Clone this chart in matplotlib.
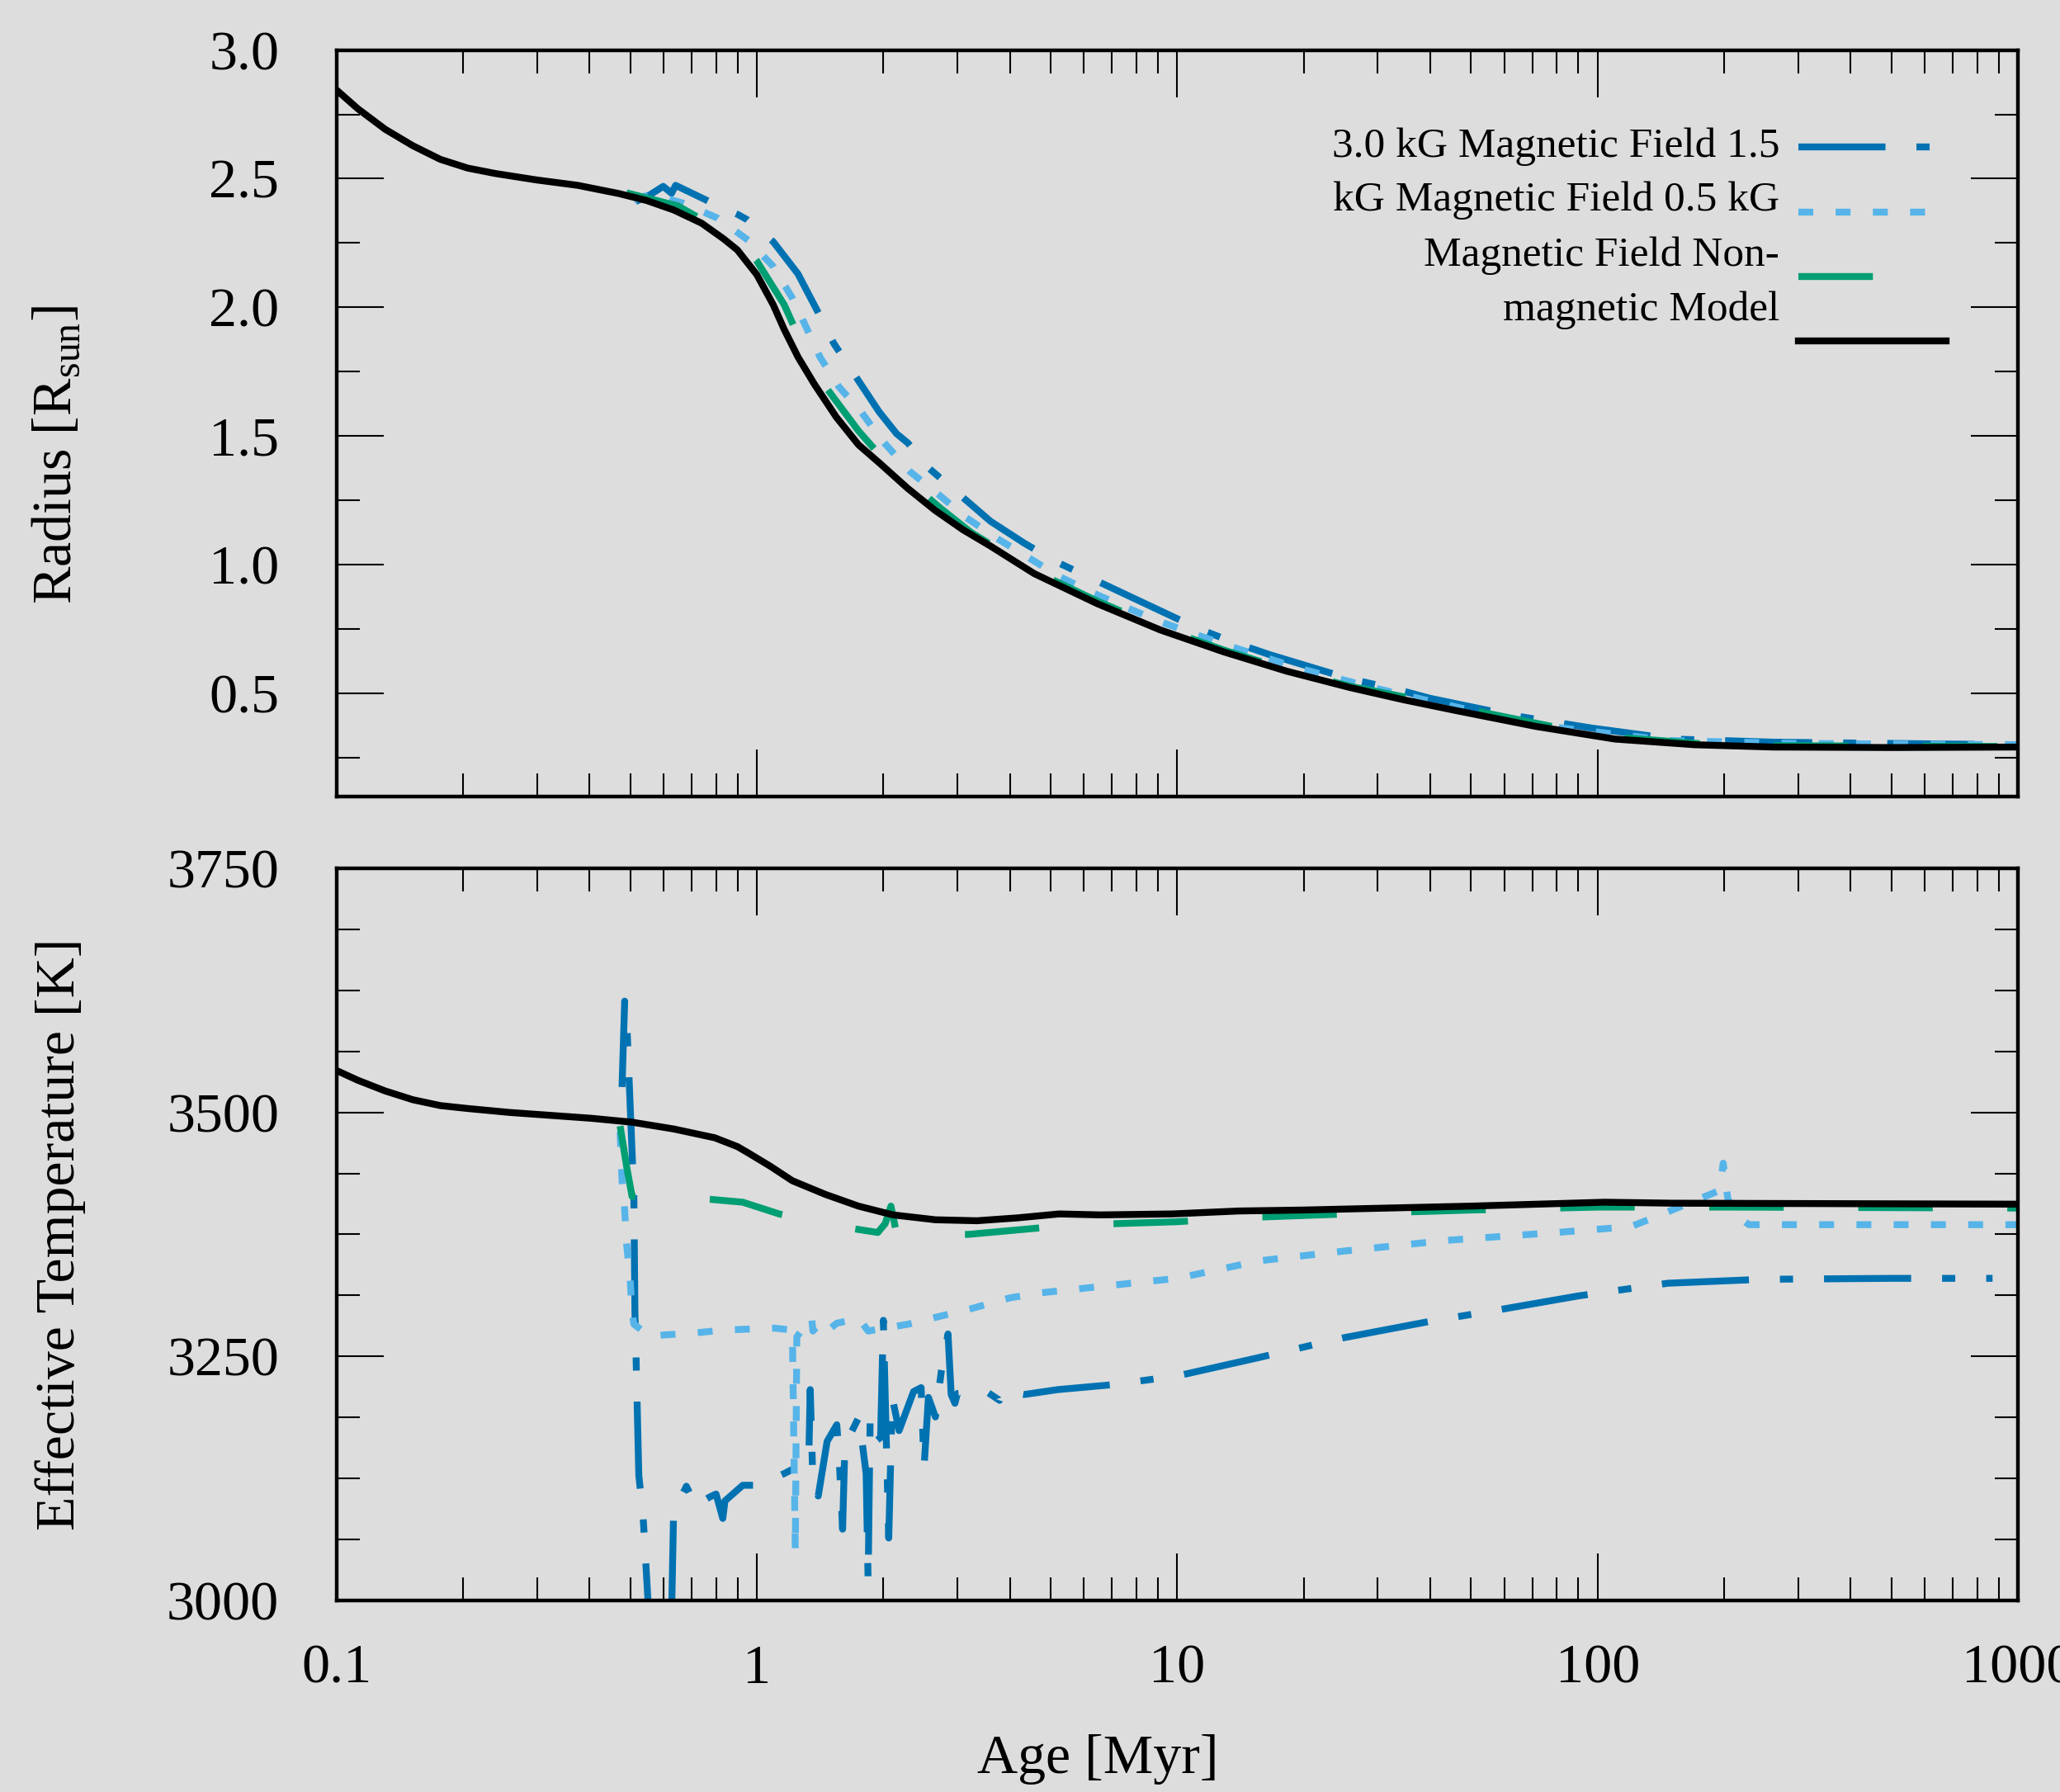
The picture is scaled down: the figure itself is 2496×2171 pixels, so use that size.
import numpy as np
import matplotlib
matplotlib.use("Agg")
import matplotlib.pyplot as plt
from matplotlib.ticker import LogLocator, MultipleLocator, NullFormatter

# =====================================================
# DATA (age in Myr)
# =====================================================
# --- radius panel [R_sun] ---
age_r_30 = [0.515, 0.558, 0.599, 0.627, 0.641, 0.773, 0.903, 0.95, 1.094, 1.253, 1.413, 1.524,
            1.954, 2.15, 2.29, 2.54, 3.6, 4.34, 5.2, 11.2, 13.6, 16.6, 26, 33, 39.8, 62.7, 96.6,
            152, 261, 500, 1000]
rad_30 = [2.411, 2.438, 2.470, 2.443, 2.474, 2.41, 2.36, 2.34, 2.255, 2.13, 1.967, 1.860,
          1.594, 1.509, 1.472, 1.381, 1.168, 1.082, 1.008, 0.752, 0.698, 0.650, 0.554, 0.517,
          0.481, 0.414, 0.365, 0.322, 0.31, 0.305, 0.30]

age_r_15 = [0.51, 0.56, 0.67, 0.808, 0.955, 1.094, 1.215, 1.30, 1.413, 1.57, 1.77, 2.0, 2.32,
            2.70, 3.14, 3.71, 4.41, 5.24, 6.3, 7.6, 9.12, 11.0, 13.4, 19.5, 29.2, 37.3, 71, 150,
            300, 1000]
rad_15 = [2.417, 2.44, 2.404, 2.346, 2.26, 2.159, 2.036, 1.935, 1.807, 1.69, 1.594, 1.477,
          1.36, 1.274, 1.184, 1.104, 1.029, 0.954, 0.89, 0.832, 0.778, 0.730, 0.682, 0.597,
          0.522, 0.481, 0.377, 0.316, 0.305, 0.30]

age_r_05 = [0.49, 0.649, 0.8, 0.927, 1.0, 1.162, 1.371, 1.745, 2.02, 2.75, 3.234, 4.57, 6.46,
            9.12, 12.9, 18.2, 25.8, 50, 100, 200, 1000]
rad_05 = [2.445, 2.394, 2.31, 2.244, 2.18, 2.01, 1.749, 1.52, 1.402, 1.216, 1.125, 0.975,
          0.858, 0.755, 0.668, 0.592, 0.527, 0.435, 0.335, 0.297, 0.293]

age_r_nm = [0.1, 0.1124, 0.1306, 0.152, 0.1767, 0.2053, 0.2389, 0.2992, 0.375, 0.470, 0.547,
            0.635, 0.739, 0.834, 0.899, 1.0, 1.094, 1.162, 1.253, 1.371, 1.546, 1.745, 1.967,
            2.287, 2.659, 3.09, 3.597, 4.57, 6.46, 9.12, 12.9, 18.2, 25.8, 34.5, 46.3, 71.4,
            110, 170, 261, 500, 1000]
rad_nm = [2.845, 2.772, 2.692, 2.628, 2.575, 2.541, 2.520, 2.495, 2.474, 2.442, 2.415, 2.378,
          2.327, 2.266, 2.223, 2.127, 2.010, 1.914, 1.807, 1.701, 1.573, 1.466, 1.392, 1.296,
          1.210, 1.136, 1.072, 0.965, 0.848, 0.746, 0.661, 0.586, 0.522, 0.475, 0.432, 0.371,
          0.322, 0.300, 0.291, 0.289, 0.291]

# --- effective temperature panel [K] ---
age_t_30 = [0.478, 0.485, 0.49, 0.495, 0.505, 0.51, 0.513, 0.516, 0.524, 0.536, 0.551, 0.57,
            0.60, 0.62, 0.628, 0.634, 0.68, 0.72, 0.746, 0.773, 0.80, 0.83, 0.84, 0.926, 1.01,
            1.162, 1.29, 1.33, 1.34, 1.36, 1.40, 1.47, 1.55, 1.57, 1.6, 1.62, 1.75, 1.82, 1.84,
            1.86, 1.88, 1.97, 2.0, 2.03, 2.06, 2.10, 2.18, 2.36, 2.46, 2.5, 2.56, 2.66, 2.75,
            2.85, 2.90, 2.96, 3.0, 3.49, 3.78, 3.85, 4.33, 5.2, 7, 10, 15.7, 24.8, 40, 58.6,
            90, 147, 246, 500, 870]
teff_30 = [3526, 3614, 3600, 3551, 3460, 3414, 3296, 3253, 3128, 3089, 3000, 2880,
           2850, 2900, 3000, 3090, 3117, 3095, 3102, 3106, 3109, 3084, 3102, 3118, 3118,
           3130, 3140, 3149, 3216, 3120, 3107, 3163, 3180, 3146, 3073, 3159, 3188, 3130, 3020,
           3183, 3160, 3167, 3287, 3174, 3064, 3208, 3174, 3214, 3218, 3137, 3208, 3188, 3236,
           3273, 3211, 3202, 3212, 3215, 3205, 3215, 3211, 3216, 3221, 3230, 3249, 3269, 3286,
           3298, 3312, 3325, 3329, 3330, 3330]

age_t_15 = [0.473, 0.478, 0.485, 0.49, 0.50, 0.505, 0.51, 0.555, 0.71, 0.833, 1.1, 1.215, 1.235,
            1.245, 1.29, 1.35, 1.36, 1.43, 1.5, 1.55, 1.75, 1.84, 2.29, 2.66, 3.24, 4.0, 4.7,
            10, 15.7, 25, 44, 80, 120, 143, 195, 199, 204, 212, 229, 500, 1000]
teff_15 = [3480, 3430, 3400, 3366, 3327, 3296, 3283, 3271, 3274, 3277, 3279, 3277, 3050,
           3270, 3279, 3290, 3276, 3287, 3279, 3284, 3289, 3276, 3283, 3290, 3299, 3310, 3315,
           3330, 3348, 3358, 3369, 3377, 3383, 3396, 3420, 3448, 3412, 3396, 3385, 3385, 3385]

age_t_05 = [0.473, 0.49, 0.505, 0.773, 0.926, 1.13, 1.4, 1.69, 1.94, 2.02, 2.085, 2.15, 3.18,
            4.8, 5.5, 7.1, 10, 14, 29.5, 50, 100, 200, 1000]
teff_05 = [3486, 3445, 3414, 3411, 3408, 3396, 3388, 3381, 3377, 3386, 3404, 3376, 3375,
           3382, 3385, 3386, 3388, 3392, 3397, 3400, 3403, 3403, 3402]

age_t_nm = [0.1, 0.1124, 0.1306, 0.152, 0.1767, 0.2053, 0.2577, 0.3224, 0.4034, 0.5047, 0.635,
            0.7945, 0.899, 0.95, 1.0755, 1.215, 1.456, 1.745, 2.11, 2.66, 3.34, 4.18, 5.24,
            6.57, 9.73, 14, 20, 50, 104, 150, 1000]
teff_nm = [3543, 3533, 3522, 3513, 3507, 3504, 3500, 3497, 3494, 3490, 3483, 3474, 3465,
           3459, 3445, 3430, 3416, 3404, 3395, 3390, 3389, 3392, 3396, 3395, 3396, 3399, 3400,
           3404, 3408, 3407, 3406]

LEGEND_TEXT = ["3.0 kG Magnetic Field 1.5", "kG Magnetic Field 0.5 kG",
               "Magnetic Field Non-", "magnetic Model"]

XTICKS = [0.1, 1, 10, 100, 1000]
XTICK_LABELS = ["0.1", "1", "10", "100", "1000"]
R_TICKS = [0.5, 1.0, 1.5, 2.0, 2.5, 3.0]
T_TICKS = [3000, 3250, 3500, 3750]

# =====================================================
# STYLE
# =====================================================
BG = "#dddddd"
plt.rcParams["font.family"] = ["Liberation Serif", "DejaVu Serif"]
plt.rcParams["mathtext.fontset"] = "custom"
plt.rcParams["mathtext.rm"] = "Liberation Serif"
plt.rcParams["lines.scale_dashes"] = False

LW = 6
styles = [
    dict(color="#0072B2", lw=LW, dashes=(76, 27, 11.5, 27)),   # 3.0 kG
    dict(color="#56B4E9", lw=LW, dashes=(13, 19.5)),           # 1.5 kG
    dict(color="#009E73", lw=LW, dashes=(65, 65)),             # 0.5 kG
    dict(color="black", lw=LW, ls="-"),                        # non-magnetic
]

fig = plt.figure(figsize=(24.96, 21.71), dpi=100, facecolor=BG)
ax1 = fig.add_axes([0.1633, 0.5557, 0.8163, 0.4164], facecolor=BG)
ax2 = fig.add_axes([0.1633, 0.1069, 0.8163, 0.4085], facecolor=BG)

radius = [(age_r_30, rad_30), (age_r_15, rad_15), (age_r_05, rad_05), (age_r_nm, rad_nm)]
teff = [(age_t_30, teff_30), (age_t_15, teff_15), (age_t_05, teff_05), (age_t_nm, teff_nm)]

for (a, r), st in zip(radius, styles):
    ax1.plot(a, r, **st)
for (a, t), st in zip(teff, styles):
    ax2.plot(a, t, **st)

for ax in (ax1, ax2):
    ax.set_xscale("log")
    ax.set_xlim(0.1, 1000)
    ax.xaxis.set_major_locator(LogLocator(base=10, numticks=10))
    ax.xaxis.set_minor_locator(LogLocator(base=10, subs=np.arange(2, 10), numticks=100))
    ax.xaxis.set_minor_formatter(NullFormatter())
    ax.tick_params(which="both", direction="in", top=True, right=True, width=1.5,
                   labelsize=49)
    ax.tick_params(which="major", length=41)
    ax.tick_params(which="minor", length=20)
    ax.tick_params(axis="y", pad=50)
    ax.tick_params(axis="x", pad=38)
    for sp in ax.spines.values():
        sp.set_linewidth(3.2)

ax1.set_ylim(0.1, 3.0)
ax1.set_yticks(R_TICKS)
ax1.set_yticklabels([f"{v:.1f}" for v in R_TICKS])
ax1.yaxis.set_minor_locator(MultipleLocator(0.25))
ax1.tick_params(labelbottom=False)

ax2.set_ylim(3000, 3750)
ax2.set_yticks(T_TICKS)
ax2.set_yticklabels([str(v) for v in T_TICKS])
ax2.yaxis.set_minor_locator(MultipleLocator(62.5))
ax2.set_xticks(XTICKS)
ax2.set_xticklabels(XTICK_LABELS)

ax1.set_ylabel(r"Radius [R$_{\mathrm{sun}}$]", fontsize=49)
ax1.yaxis.set_label_coords(-0.151, 0.458)
ax2.set_ylabel("Effective Temperature [K]", fontsize=49)
ax2.yaxis.set_label_coords(-0.149, 0.5)
fig.text(0.533, 0.018, "Age [Myr]", fontsize=49, ha="center", va="center")

# key, drawn the way the original lays it out
text_y = [0.8568, 0.7850, 0.7109, 0.6379]
line_y = [0.8701, 0.7828, 0.6965, 0.6103]
for txt, ty in zip(LEGEND_TEXT, text_y):
    ax1.text(0.8582, ty, txt, transform=ax1.transAxes, ha="right", va="baseline",
             fontsize=37)
for st, ly in zip(styles, line_y):
    ax1.plot([0.8694, 0.9573], [ly, ly], transform=ax1.transAxes, **st)

fig.savefig("out.png", dpi=100, facecolor=BG)
